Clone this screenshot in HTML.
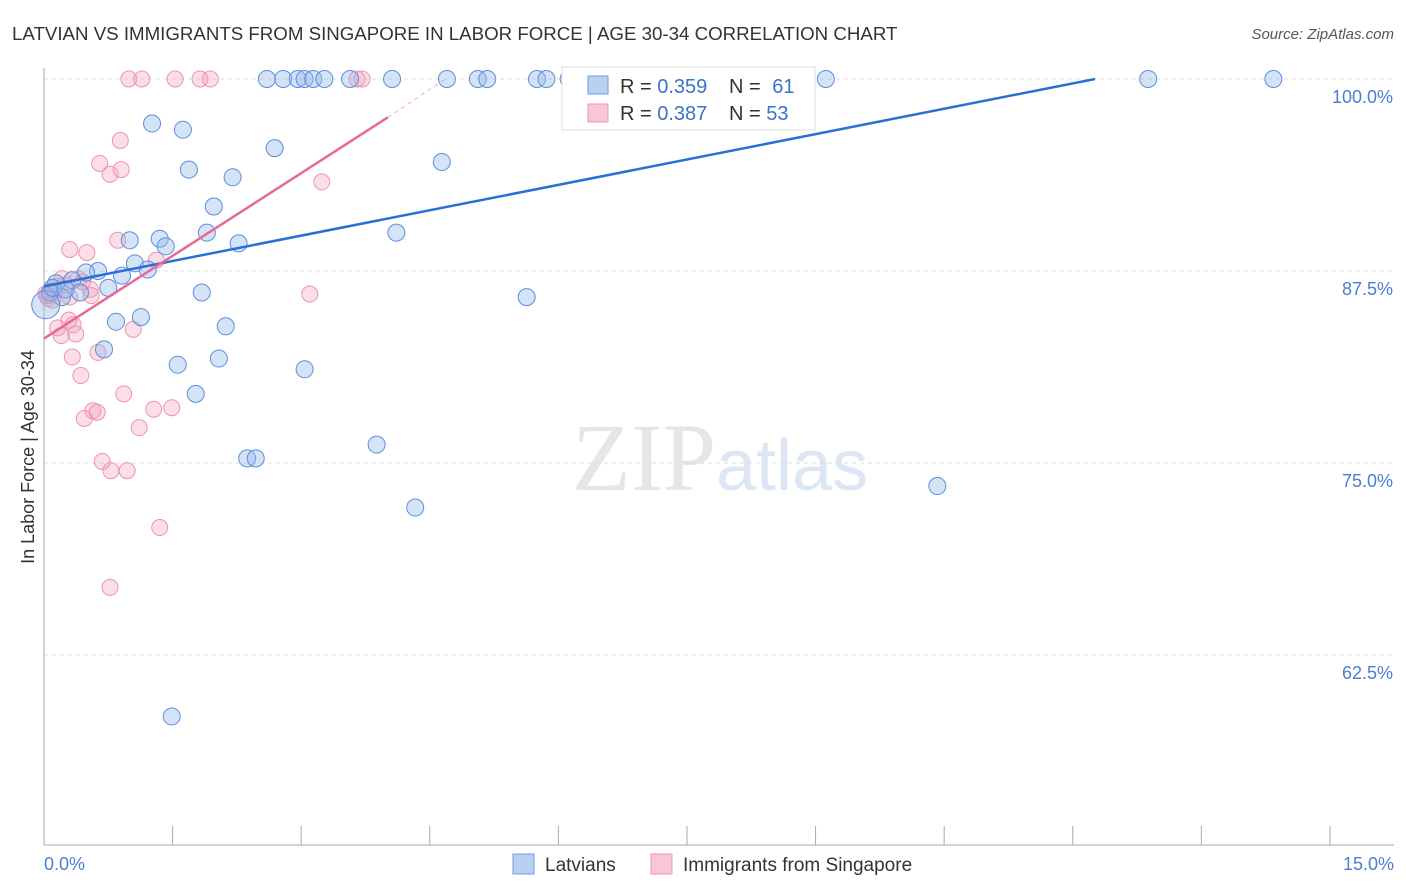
<!DOCTYPE html>
<html><head><meta charset="utf-8"><style>
body{margin:0;background:#fff;font-family:"Liberation Sans",sans-serif}
svg{display:block}
</style></head><body>
<svg id="chart" width="1406" height="892" xmlns="http://www.w3.org/2000/svg" font-family="Liberation Sans, sans-serif">
<text x="12" y="40" font-size="18.7" fill="#333">LATVIAN VS IMMIGRANTS FROM SINGAPORE IN LABOR FORCE | AGE 30-34 CORRELATION CHART</text>
<text x="1394" y="39" font-size="15" fill="#555" text-anchor="end" font-style="italic">Source: ZipAtlas.com</text>
<text x="716" y="490" font-size="96" fill="#e6e6e6" text-anchor="end" font-family="Liberation Serif, serif">ZIP</text>
<text x="716" y="490" font-size="72" fill="#dce6f5">atlas</text>
<g id="grid"></g><g id="axes"></g><g id="pts"></g><g id="lines"></g>
<g>
<rect x="562" y="67" width="253" height="63" fill="#fff" stroke="#ddd"/>
<rect x="588" y="76" width="20" height="18" fill="#b8d1f3" stroke="#6f9ee0"/>
<text x="620" y="93" font-size="20" fill="#333">R = <tspan fill="#3a73c9">0.359</tspan></text>
<text x="729" y="93" font-size="20" fill="#333">N = <tspan dx="6" fill="#3a73c9">61</tspan></text>
<rect x="588" y="104" width="20" height="18" fill="#f8c6d4" stroke="#ec94ae"/>
<text x="620" y="120" font-size="20" fill="#333">R = <tspan fill="#3a73c9">0.387</tspan></text>
<text x="729" y="120" font-size="20" fill="#333">N = <tspan fill="#3a73c9">53</tspan></text>
</g>
<g>
<rect x="513" y="854" width="21" height="20" fill="#b8d1f3" stroke="#6f9ee0"/>
<text x="545" y="871" font-size="19" fill="#333">Latvians</text>
<rect x="651" y="854" width="21" height="20" fill="#f8c6d4" stroke="#ec94ae"/>
<text x="683" y="871" font-size="19" fill="#333">Immigrants from Singapore</text>
</g>
<text x="34" y="457" font-size="18" fill="#333" text-anchor="middle" transform="rotate(-90 34 457)">In Labor Force | Age 30-34</text>
</svg>
<script>
const yTicks=[100,87.5,75,62.5];
const yTickLabels=["100.0%","87.5%","75.0%","62.5%"];
const xTicks=[0,1.5,3,4.5,6,7.5,9,10.5,12,13.5,15];
const blueX=[1.26,1.62,1.69,2.20,2.69,1.98,1.90,1.35,1.42,1.00,2.27,1.06,1.21,0.91,0.63,0.49,0.33,0.14,0.07,0.21,0.42,0.75,1.84,0.84,1.13,2.12,0.70,1.56,2.04,3.04,1.77,2.37,2.47,3.88,4.33,1.49,4.11,4.64,5.63,10.42,2.60,2.79,2.96,3.04,3.14,3.27,3.57,4.06,4.70,5.06,5.17,5.75,5.86,6.12,7.98,9.12,12.88,14.34,0.02,0.1,0.25];
const blueY=[97.1,96.7,94.1,93.6,95.5,91.7,90.0,89.6,89.1,89.5,89.3,88.0,87.6,87.2,87.5,87.4,86.9,86.7,86.1,85.8,86.1,86.4,86.1,84.2,84.5,83.9,82.4,81.4,81.8,81.1,79.5,75.3,75.3,76.2,72.1,58.5,90.0,94.6,85.8,73.5,100,100,100,100,100,100,100,100,100,100,100,100,100,100,100,100,100,100,85.3,86.4,86.3];
const pinkX=[0.99,1.14,1.53,1.82,1.94,3.65,3.71,0.89,0.65,0.77,0.90,3.24,0.86,0.30,0.50,1.31,0.21,0.54,0.07,3.10,0.16,0.34,0.29,0.37,1.04,0.20,0.63,0.33,0.43,0.93,0.57,0.62,0.47,1.28,1.49,1.11,0.68,0.78,0.97,1.35,0.77,0.05,0.12,0.26,0.02,0.1,0.4,0.55,0.15,0.08,0.3,0.45,0.04];
const pinkY=[100,100,100,100,100,100,100,96.0,94.5,93.8,94.1,93.3,89.5,88.9,88.7,88.2,87.0,86.3,85.9,86.0,83.8,84.0,84.3,83.4,83.7,83.3,82.2,81.9,80.7,79.5,78.4,78.3,77.9,78.5,78.6,77.3,75.1,74.5,74.5,70.8,66.9,85.7,86.2,86.6,86.0,85.6,87.0,85.9,86.5,86.2,85.8,86.8,85.9];
const blueTrend=[[0,86.5],[12.26,100]];
const pinkTrend=[[0,83.1],[4.01,97.5]];
const pinkDash=[[4.01,97.5],[4.68,100]];
const X=v=>44+v*85.73, Y=v=>79+(100-v)*15.36;
const NS="http://www.w3.org/2000/svg";
function mk(p,t,a){const e=document.createElementNS(NS,t);for(const k in a)e.setAttribute(k,a[k]);p.appendChild(e);return e;}
const grid=document.getElementById('grid'),axes=document.getElementById('axes'),pts=document.getElementById('pts'),lines=document.getElementById('lines');
yTicks.forEach((t,i)=>{
 const l=mk(grid,'line',{x1:44,x2:1394,y1:Y(t),y2:Y(t),stroke:'#ddd','stroke-dasharray':'4,4'});
 
 
 const tx=mk(grid,'text',{x:1393,y:Y(t)+24,'font-size':18,fill:'#4a7fd0','text-anchor':'end'});
 tx.textContent=yTickLabels[i];
 
 
});
const ya=mk(axes,'line',{x1:44,x2:44,y1:68,y2:845,stroke:'#aaa'});


const xa=mk(axes,'line',{x1:44,x2:1394,y1:845,y2:845,stroke:'#aaa'});


xTicks.forEach(t=>{const l=mk(axes,'line',{x1:X(t),x2:X(t),y1:826,y2:845,stroke:'#aaa'});
 
 });
const x0=mk(axes,'text',{x:44,y:870,'font-size':18,fill:'#4a7fd0'});x0.textContent='0.0%';


const x1=mk(axes,'text',{x:1394,y:870,'font-size':18,fill:'#4a7fd0','text-anchor':'end'});x1.textContent='15.0%';


pinkX.forEach((v,i)=>{const c=mk(pts,'circle',{cx:X(v),cy:Y(pinkY[i]),r:8,fill:'rgba(244,160,185,0.35)',stroke:'#ec94ae','stroke-width':1});
 
 });
blueX.forEach((v,i)=>{const c=mk(pts,'circle',{cx:X(v),cy:Y(blueY[i]),r:(i==58?14:8.5),fill:'rgba(150,185,235,0.4)',stroke:'#5b8fdc','stroke-width':1});
 
 });
const bl=mk(lines,'line',{x1:X(blueTrend[0][0]),y1:Y(blueTrend[0][1]),x2:X(blueTrend[1][0]),y2:Y(blueTrend[1][1]),stroke:'#2a6fd6','stroke-width':2.5});


const pl=mk(lines,'line',{x1:X(pinkTrend[0][0]),y1:Y(pinkTrend[0][1]),x2:X(pinkTrend[1][0]),y2:Y(pinkTrend[1][1]),stroke:'#e66a93','stroke-width':2.5});


const pd=mk(lines,'line',{x1:X(pinkDash[0][0]),y1:Y(pinkDash[0][1]),x2:X(pinkDash[1][0]),y2:Y(pinkDash[1][1]),stroke:'#f0a8c0','stroke-width':1,'stroke-dasharray':'4,4'});


</script>
</body></html>
